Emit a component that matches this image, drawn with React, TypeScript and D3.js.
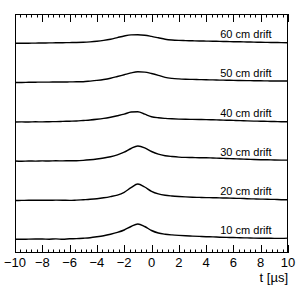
import React from 'react';
import * as d3 from 'd3';

const WIDTH = 303;
const HEIGHT = 292;
const MARGIN = { TOP: 14, BOTTOM: 39, LEFT: 15, RIGHT: 15 };

// sample times in microseconds
const times = [
  -10, -9.5, -9, -8.5, -8, -7.5, -7, -6.5, -6, -5.5, -5, -4.5, -4, -3.5, -3, -2.5, -2, -1.5, -1, -0.5,
  0, 0.5, 1, 1.5, 2, 2.5, 3, 3.5, 4, 4.5, 5, 5.5, 6, 6.5, 7, 7.5, 8, 8.5, 9, 9.5, 10,
];

const driftLabels = ['10 cm drift', '20 cm drift', '30 cm drift', '40 cm drift', '50 cm drift', '60 cm drift'];
// vertical offset of each trace (arbitrary units)
const offsets = [0, 38.5, 78, 117, 156.5, 196];

const pulse10 = [
  -0.3, -0.3, -0.1, 0, 0, -0.2, 0.1, -0.3, 0.2, 0.4, 0.8, 1.3, 2.2, 3.3, 4.8, 6.6, 9, 12.5, 15, 12.5,
  8.5, 6, 4.8, 4.1, 3.6, 3.2, 2.9, 2.6, 2.3, 2.1, 1.8, 1.6, 1.5, 1.2, 1.1, 0.9, 0.8, 0.8, 0.6, 0.6, 0.9,
];
const pulse20 = [
  0, 0.1, 0.2, 0.2, 0.3, 0.2, 0.4, 0.3, 0.1, 0.4, 0.8, 1.2, 1.8, 2.7, 3.9, 5.4, 8.2, 12.8, 16.5, 13.5,
  9.2, 6.6, 5.2, 4.5, 4, 3.6, 3.3, 3.1, 2.9, 2.8, 2.6, 2.5, 2.2, 2.1, 1.8, 1.6, 1.4, 1.2, 1.1, 0.8, 0.8,
];
const pulse30 = [
  0, -0.2, 0, -0.1, 0.1, 0, 0.2, 0.1, 0.3, 0.3, 0.6, 1.2, 2, 3, 4.3, 6.2, 8.8, 12.5, 15, 13.2,
  9.5, 6.8, 5.3, 4.5, 3.9, 3.6, 3.5, 3.3, 3.3, 3, 2.8, 2.5, 2.3, 2, 1.8, 1.5, 1.3, 1.2, 1, 0.9, 0.9,
];
const pulse40 = [
  0, 0.1, 0, 0.2, 0.1, 0.3, 0.4, 0.6, 0.8, 1, 1.5, 2, 2.7, 3.6, 4.8, 6.2, 7.8, 10, 10.3, 7.8,
  5.3, 4.2, 3.6, 3.2, 2.9, 2.7, 2.6, 2.5, 2.4, 2.2, 2, 1.8, 1.6, 1.4, 1.1, 0.9, 0.8, 0.6, 0.5, 0.3, 0.2,
];
const pulse50 = [
  0, 0, 0.2, 0.3, 0.4, 0.4, 0.5, 0.5, 0.6, 0.7, 0.8, 1.4, 2.1, 3, 4.3, 6, 7.8, 9.6, 10.7, 10.4,
  9, 7.2, 5.1, 4.1, 3.6, 3.3, 3.1, 2.9, 2.7, 2.6, 2.4, 2.3, 2.1, 2, 1.9, 1.8, 1.7, 1.6, 1.5, 1.5, 1.5,
];
const pulse60 = [
  -0.3, -0.3, -0.2, -0.1, 0, 0.1, 0.2, 0.3, 0.4, 0.5, 0.7, 1.1, 1.7, 2.6, 3.8, 5.4, 7, 8.1, 8.3, 7.8,
  6.6, 5.2, 3.8, 3, 2.6, 2.4, 2.2, 2, 1.9, 1.8, 1.6, 1.5, 1.3, 1.2, 1, 0.9, 0.7, 0.6, 0.5, 0.4, 0.3,
];
const pulses = [pulse10, pulse20, pulse30, pulse40, pulse50, pulse60];

const X_DOMAIN: [number, number] = [-10, 10];
const Y_DOMAIN: [number, number] = [-14, 225];
const LABEL_LIFT = 5.5;

const FONT = "'Liberation Sans', Arial, Helvetica, sans-serif";

export default function App(): JSX.Element {
  const plotW = WIDTH - MARGIN.LEFT - MARGIN.RIGHT;
  const plotH = HEIGHT - MARGIN.TOP - MARGIN.BOTTOM;

  const xScale = d3.scaleLinear().domain(X_DOMAIN).range([MARGIN.LEFT, MARGIN.LEFT + plotW]);
  const yScale = d3.scaleLinear().domain(Y_DOMAIN).range([MARGIN.TOP + plotH, MARGIN.TOP]);

  const majorTicks = xScale.ticks(10);
  const minorTicks = d3.range(X_DOMAIN[0], X_DOMAIN[1] + 0.001, 0.4);
  const fmt = xScale.tickFormat(10, 'd');

  const yTop = MARGIN.TOP;
  const yBottom = MARGIN.TOP + plotH;

  return (
    <svg
      width={WIDTH}
      height={HEIGHT}
      style={{ position: 'absolute', left: 0, top: 0, background: '#fff' }}
      fontFamily={FONT}
    >
      <rect x={0} y={0} width={WIDTH} height={HEIGHT} fill="#fff" />

      {pulses.map((pulse, i) => {
        const line = d3
          .line<number>()
          .x((_, j) => xScale(times[j]))
          .y((v) => yScale(v + offsets[i]))
          .curve(d3.curveMonotoneX);
        return (
          <g key={driftLabels[i]}>
            <path d={line(pulse) || ''} fill="none" stroke="#000" strokeWidth={1.4} />
            <text
              x={xScale(8.8)}
              y={yScale(offsets[i] + LABEL_LIFT)}
              fontSize={11}
              textAnchor="end"
              fill="#000"
            >
              {driftLabels[i]}
            </text>
          </g>
        );
      })}

      {/* ticks on top and bottom */}
      {minorTicks.map((t) => {
        const major = majorTicks.some((m) => Math.abs(m - t) < 1e-6);
        const len = major ? 8 : 3.5;
        const x = Math.round(xScale(t)) + 0.5;
        return (
          <g key={`tick-${t.toFixed(1)}`} stroke="#000" strokeWidth={1}>
            <line x1={x} x2={x} y1={yBottom} y2={yBottom - len} />
            <line x1={x} x2={x} y1={yTop} y2={yTop + len} />
          </g>
        );
      })}

      <rect
        x={MARGIN.LEFT + 0.5}
        y={yTop + 0.5}
        width={plotW - 1}
        height={plotH - 1}
        fill="none"
        stroke="#000"
        strokeWidth={1}
      />

      {majorTicks.map((t) => (
        <text key={`lbl-${t}`} x={xScale(t)} y={yBottom + 13.5} fontSize={13} textAnchor="middle" fill="#000">
          {fmt(t)}
        </text>
      ))}

      <text x={MARGIN.LEFT + plotW} y={281.5} fontSize={13} textAnchor="end" fill="#000">
        t [µs]
      </text>
    </svg>
  );
}
